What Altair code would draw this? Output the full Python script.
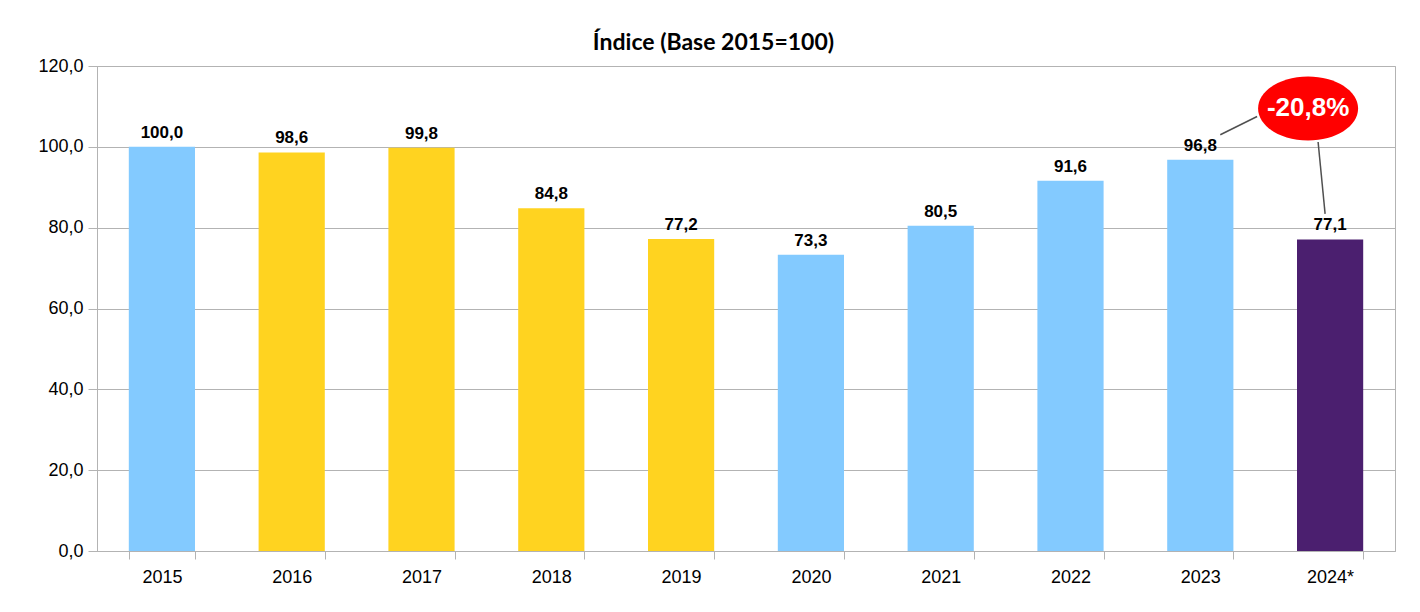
import altair as alt
import pandas as pd

# ---- data ----
years = ["2015", "2016", "2017", "2018", "2019", "2020", "2021", "2022", "2023", "2024*"]
values = [100.0, 98.6, 99.8, 84.8, 77.2, 73.3, 80.5, 91.6, 96.8, 77.1]
groups = ["g1", "g2", "g2", "g2", "g2", "g1", "g1", "g1", "g1", "g3"]
group_names = ["g1", "g2", "g3"]
group_colors = ["#83caff", "#ffd320", "#4b1f6f"]
y_ticks = [0, 20, 40, 60, 80, 100, 120]

change_label = "-20,8%"
change_year = "2024*"
change_y = 109.5
link1_from, link1_to = ("2023", 103.0), ("2024*", 107.5)
link2_from, link2_to = ("2024*", 101.2), ("2024*", 83.4)

title = "Índice (Base 2015=100)"

df = pd.DataFrame({"year": years, "value": values, "group": groups})
ann = pd.DataFrame({"year": [change_year], "y": [change_y], "label": [change_label]})
l1 = pd.DataFrame({"x": [link1_from[0]], "x2": [link1_to[0]], "y": [link1_from[1]], "y2": [link1_to[1]]})
l2 = pd.DataFrame({"x": [link2_from[0]], "x2": [link2_to[0]], "y": [link2_from[1]], "y2": [link2_to[1]]})

FONT = "Liberation Sans"
GRID = "#b3b3b3"

xscale = alt.Scale(domain=years, paddingInner=0.49, paddingOuter=0.245)
yscale = alt.Scale(domain=[0, 120])

x_enc = alt.X(
    "year:N", scale=xscale, sort=years, title=None,
    axis=alt.Axis(labelAngle=0, labelFont=FONT, labelFontSize=18, labelColor="#000000",
                  domainColor=GRID, tickColor=GRID, tickSize=8, tickBand="extent",
                  labelPadding=9, grid=False),
)
y_enc = alt.Y(
    "value:Q", scale=yscale, title=None,
    axis=alt.Axis(values=y_ticks, labelFont=FONT, labelFontSize=18, labelColor="#000000",
                  labelExpr="replace(format(datum.value, '.1f'), '.', ',')",
                  domainColor=GRID, tickColor=GRID, tickSize=9, labelPadding=5,
                  gridColor=GRID, gridWidth=1),
)

bars = alt.Chart(df).mark_bar().encode(
    x=x_enc,
    y=y_enc,
    color=alt.Color("group:N", scale=alt.Scale(domain=group_names, range=group_colors), legend=None),
)

labels = alt.Chart(df).transform_calculate(
    lab="replace(format(datum.value, '.1f'), '.', ',')"
).mark_text(font=FONT, fontSize=17, fontWeight="bold", baseline="alphabetic", dy=-9, color="#000000").encode(
    x=alt.X("year:N", scale=xscale, sort=years),
    y=alt.Y("value:Q", scale=yscale),
    text="lab:N",
)

rule1 = alt.Chart(l1).mark_rule(color="#505050", strokeWidth=1.5, xOffset=20, x2Offset=-73).encode(
    x=alt.X("x:N", scale=xscale, sort=years), x2="x2:N",
    y=alt.Y("y:Q", scale=yscale), y2="y2:Q",
)
rule2 = alt.Chart(l2).mark_rule(color="#505050", strokeWidth=1.5, xOffset=-12, x2Offset=-5).encode(
    x=alt.X("x:N", scale=xscale, sort=years), x2="x2:N",
    y=alt.Y("y:Q", scale=yscale), y2="y2:Q",
)

ellipse_path = "M-1,0A1,0.64,0,1,0,1,0A1,0.64,0,1,0,-1,0Z"
ellipse = alt.Chart(ann).mark_point(
    shape=ellipse_path, size=10000, filled=True, fill="#ff0000", strokeWidth=0, opacity=1, xOffset=-22
).encode(
    x=alt.X("year:N", scale=xscale, sort=years),
    y=alt.Y("y:Q", scale=yscale),
)
ann_text = alt.Chart(ann).mark_text(
    font=FONT, fontSize=26, fontWeight="bold", color="#ffffff", align="center", baseline="middle", xOffset=-22
).encode(
    x=alt.X("year:N", scale=xscale, sort=years),
    y=alt.Y("y:Q", scale=yscale),
    text="label:N",
)

chart = alt.layer(bars, labels, rule1, rule2, ellipse, ann_text).properties(
    width=1298,
    height=485,
    title=alt.TitleParams(title, font="Lato", fontSize=23, fontWeight="bold", color="#000000",
                          anchor="middle", frame="bounds", offset=2, dx=-3),
    autosize=alt.AutoSizeParams(type="none"),
    padding={"left": 89, "top": 58, "right": 17, "bottom": 53},
    background="#ffffff",
).configure_view(stroke=GRID, strokeWidth=1)

chart.save("out.html", embed_options={"renderer": "svg", "actions": False})
